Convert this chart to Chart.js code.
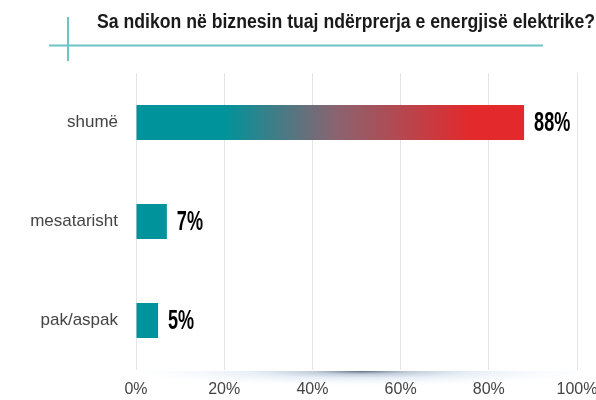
<!DOCTYPE html>
<html>
<head>
<meta charset="utf-8">
<script src="https://cdn.jsdelivr.net/npm/chart.js@4/dist/chart.umd.min.js"></script>
<style>
  html, body { margin: 0; padding: 0; background: #fff; }
  #wrap { width: 596px; height: 400px; position: relative; }
</style>
</head>
<body>
<div id="wrap"><canvas id="chart"></canvas></div>
<script>
// data
const TITLE = 'Sa ndikon në biznesin tuaj ndërprerja e energjisë elektrike?';
const categories = ['shumë', 'mesatarisht', 'pak/aspak'];
const values = [88, 7, 5];
const xTicks = [0, 20, 40, 60, 80, 100];

const TEAL = '#00939b';
const RED = '#e3292c';
const FONT = '"Liberation Sans", Arial, sans-serif';

// bar fill: gradient for the big bar, flat teal for the rest
function barColor (ctx) {
  const chart = ctx.chart;
  const area = chart.chartArea;
  if (!area || ctx.dataIndex !== 0) return TEAL;
  const x = chart.scales.x;
  const g = chart.ctx.createLinearGradient(x.getPixelForValue(20), 0, x.getPixelForValue(76), 0);
  g.addColorStop(0, TEAL);
  g.addColorStop(0.45, '#8a6470');
  g.addColorStop(1, RED);
  return g;
}

// title, decorative lines, soft shadow under the plot, value labels
const decorPlugin = {
  id: 'decor',
  beforeDraw (chart) {
    const { ctx, chartArea } = chart;
    ctx.save();
    // haze under the axis
    const cx = (chartArea.left + chartArea.right) / 2 + 5;
    const cy = chartArea.bottom + 1;
    ctx.translate(cx, cy);
    ctx.scale(1, 0.065);
    const rg = ctx.createRadialGradient(0, 0, 0, 0, 0, 230);
    rg.addColorStop(0, 'rgba(40,55,80,0.75)');
    rg.addColorStop(0.22, 'rgba(120,145,175,0.45)');
    rg.addColorStop(0.5, 'rgba(190,210,232,0.35)');
    rg.addColorStop(1, 'rgba(225,236,248,0)');
    ctx.fillStyle = rg;
    ctx.beginPath();
    ctx.arc(0, 0, 230, 0, Math.PI);
    ctx.fill();
    ctx.restore();

    ctx.save();
    ctx.strokeStyle = '#6cc3c8';
    ctx.lineWidth = 2;
    ctx.beginPath();
    ctx.moveTo(49, 45.5);
    ctx.lineTo(543, 45.5);
    ctx.moveTo(68, 17);
    ctx.lineTo(68, 61);
    ctx.stroke();

    ctx.fillStyle = '#1a1a1a';
    ctx.font = 'bold 20px ' + FONT;
    ctx.textBaseline = 'alphabetic';
    ctx.textAlign = 'left';
    const w = ctx.measureText(TITLE).width;
    ctx.translate(97, 28);
    ctx.scale(498 / w, 1);
    ctx.fillText(TITLE, 0, 0);
    ctx.restore();
  },
  afterDatasetsDraw (chart) {
    const { ctx } = chart;
    const meta = chart.getDatasetMeta(0);
    ctx.save();
    ctx.fillStyle = '#000';
    ctx.font = 'bold 27px ' + FONT;
    ctx.textBaseline = 'middle';
    ctx.textAlign = 'left';
    meta.data.forEach((bar, i) => {
      ctx.save();
      ctx.translate(bar.x + 10, bar.y + 1);
      ctx.scale(0.67, 1);
      ctx.fillText(values[i] + '%', 0, 0);
      ctx.restore();
    });
    ctx.restore();
  }
};

new Chart(document.getElementById('chart'), {
  type: 'bar',
  data: {
    labels: categories,
    datasets: [{
      data: values,
      backgroundColor: barColor,
      borderWidth: 0,
      barPercentage: 0.354,
      categoryPercentage: 1
    }]
  },
  options: {
    indexAxis: 'y',
    responsive: true,
    maintainAspectRatio: false,
    animation: false,
    layout: { padding: { top: 73, right: 19, left: 0, bottom: 0 } },
    plugins: {
      legend: { display: false },
      tooltip: { enabled: false }
    },
    scales: {
      x: {
        min: 0,
        max: 100,
        afterBuildTicks (scale) {
          scale.ticks = xTicks.map(v => ({ value: v }));
        },
        afterFit (scale) {
          scale.height = 30;
          scale.paddingLeft = 0;
          scale.paddingRight = 0;
        },
        grid: { color: '#e4e4e4', lineWidth: 1, drawTicks: false },
        border: { display: false },
        ticks: {
          padding: 10,
          color: '#444',
          font: { family: FONT, size: 16 },
          callback: v => v + '%'
        }
      },
      y: {
        afterFit (scale) {
          scale.width = 136;
          scale.paddingTop = 0;
          scale.paddingBottom = 0;
        },
        grid: { display: false, drawTicks: false },
        border: { display: false },
        ticks: {
          padding: 18,
          color: '#444',
          font: { family: FONT, size: 17 }
        }
      }
    }
  },
  plugins: [decorPlugin]
});
</script>
</body>
</html>
